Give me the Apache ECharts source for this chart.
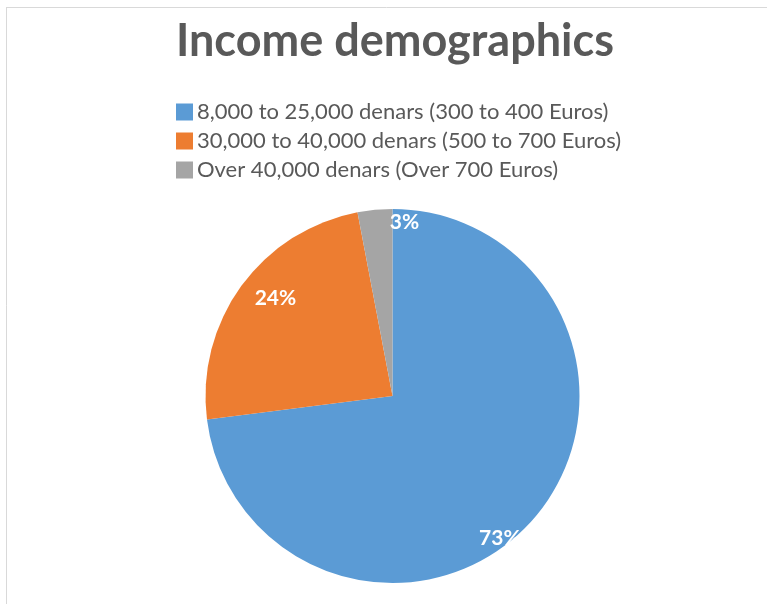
<!DOCTYPE html>
<html>
<head>
<meta charset="utf-8">
<script src="https://cdn.jsdelivr.net/npm/echarts@6/dist/echarts.min.js"></script>
<style>
html,body{margin:0;padding:0;background:#fff;}
#chart{width:767px;height:604px;}
</style>
</head>
<body>
<div id="chart"></div>
<script>
const titleText = "Income demographics";
const categories = [
  "8,000 to 25,000 denars (300 to 400 Euros)",
  "30,000 to 40,000 denars (500 to 700 Euros)",
  "Over 40,000 denars (Over 700 Euros)"
];
const values = [73, 24, 3];
const colors = ["#5B9BD5", "#ED7D31", "#A5A5A5"];
const labelOffsets = [[35, 78], [-39, -41], [21, -78]];

const chart = echarts.init(document.getElementById('chart'));
chart.setOption({
  backgroundColor: '#fff',
  animation: false,
  title: {
    text: titleText,
    left: 390,
    textAlign: 'center',
    top: 14,
    textStyle: { fontFamily: 'Lato', fontWeight: 'bold', fontSize: 45, color: '#595959' }
  },
  legend: {
    orient: 'vertical',
    left: 171,
    top: 96,
    itemWidth: 17,
    itemHeight: 17,
    itemGap: 7,
    icon: 'rect',
    textStyle: { fontFamily: 'Lato', fontSize: 22, color: '#595959', padding: [0, 0, 0, -1] },
    data: categories
  },
  graphic: [
    { type: 'line', shape: { x1: 6, y1: 7.5, x2: 767, y2: 7.5 }, style: { stroke: '#d9d9d9', lineWidth: 1 } },
    { type: 'line', shape: { x1: 6.5, y1: 7.5, x2: 6.5, y2: 604 }, style: { stroke: '#d9d9d9', lineWidth: 1 } }
  ],
  series: [{
    type: 'pie',
    center: [392.5, 396],
    radius: 187,
    startAngle: 90,
    clockwise: true,
    label: {
      show: true,
      position: 'inside',
      formatter: '{c}%',
      color: '#fff',
      fontFamily: 'Lato',
      fontWeight: 'bold',
      fontSize: 21
    },
    labelLine: { show: false },
    emphasis: { disabled: true },
    itemStyle: { borderWidth: 0 },
    data: categories.map((n, i) => ({
      name: n,
      value: values[i],
      itemStyle: { color: colors[i] },
      label: { offset: labelOffsets[i] }
    }))
  }]
});
</script>
</body>
</html>
